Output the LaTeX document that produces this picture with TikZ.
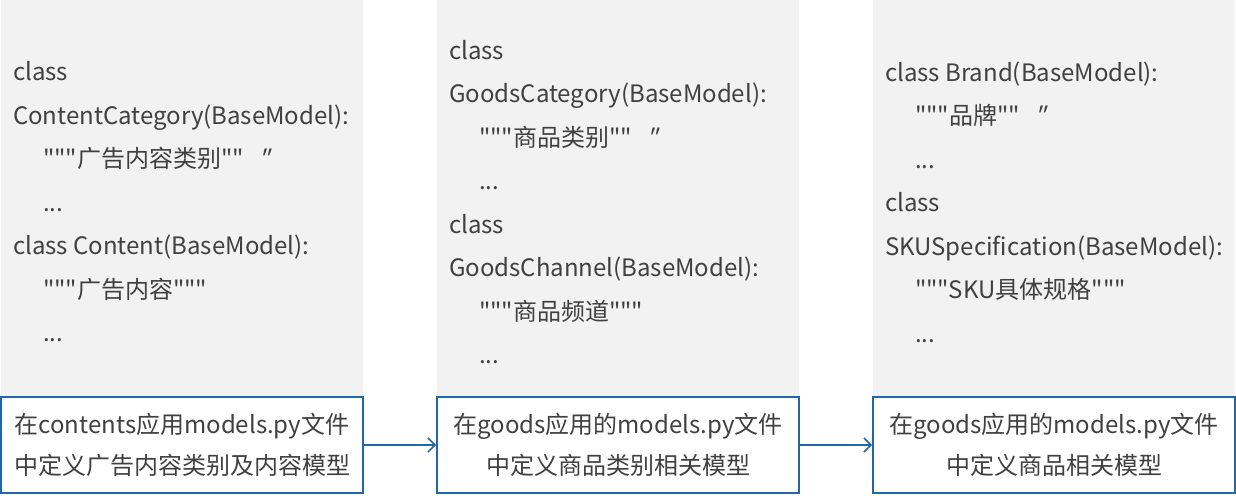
\documentclass[tikz,border=0pt]{standalone}
\usepackage{fontspec}
\setmainfont{Noto Sans CJK SC}[Ligatures=TeXOff]
\newfontfamily\slantq{Noto Sans CJK SC}[Ligatures=TeXOff,FakeSlant=0.3]
\usepackage{tikz}
\usetikzlibrary{positioning,arrows.meta}

\definecolor{codegray}{HTML}{F2F2F2}
\definecolor{textgray}{HTML}{404040}
\definecolor{noteblue}{HTML}{2068A8}

\tikzset{
  panel/.style={fill=codegray, draw=none, minimum width=181pt, minimum height=198pt, inner sep=0pt},
  code/.style={anchor=west, align=left, inner sep=0pt, text=textgray,
    font={\fontsize{12pt}{21.75pt}\selectfont}},
  note/.style={draw=noteblue, line width=1pt, fill=white, minimum width=181pt, minimum height=48pt,
    align=center, inner sep=0pt, text=textgray, font={\fontsize{12pt}{20.5pt}\selectfont}},
  flow/.style={draw=noteblue, line width=0.75pt, -{Straight Barb[length=3.5pt,width=7pt]}}
}
\newcommand{\ind}{\hspace*{15pt}}
\newcommand{\tq}{""\hspace{7pt}{\slantq"}}

\begin{document}
\begin{tikzpicture}
\useasboundingbox (0,0) rectangle (618pt,-248pt);

% code panels
\node[panel] (panelA) at (91pt,-99pt) {};
\node[panel] (panelB) at (309pt,-99pt) {};
\node[panel] (panelC) at (527pt,-99pt) {};

\node[code] (codeA) at ([xshift=6pt,yshift=-2pt]panelA.west) {class\\ContentCategory(BaseModel):\\\ind"""广告内容类别\tq\\\ind...\\class Content(BaseModel):\\\ind"""广告内容"""\\\ind...};
\node[code] (codeB) at ([xshift=6pt,yshift=-2pt]panelB.west) {class\\GoodsCategory(BaseModel):\\\ind"""商品类别\tq\\\ind...\\class\\GoodsChannel(BaseModel):\\\ind"""商品频道"""\\\ind...};
\node[code] (codeC) at ([xshift=6pt,yshift=-2pt]panelC.west) {class Brand(BaseModel):\\\ind"""品牌\tq\\\ind...\\class\\SKUSpecification(BaseModel):\\\ind"""SKU具体规格"""\\\ind...};

% notes below
\node[note] (noteA) at (91pt,-222.5pt) {在contents应用models.py文件\\中定义广告内容类别及内容模型};
\node[note] (noteB) at (309pt,-222.5pt) {在goods应用的models.py文件\\中定义商品类别相关模型};
\node[note] (noteC) at (527pt,-222.5pt) {在goods应用的models.py文件\\中定义商品相关模型};

\draw[flow] (noteA) -- (noteB);
\draw[flow] (noteB) -- (noteC);

\end{tikzpicture}
\end{document}
